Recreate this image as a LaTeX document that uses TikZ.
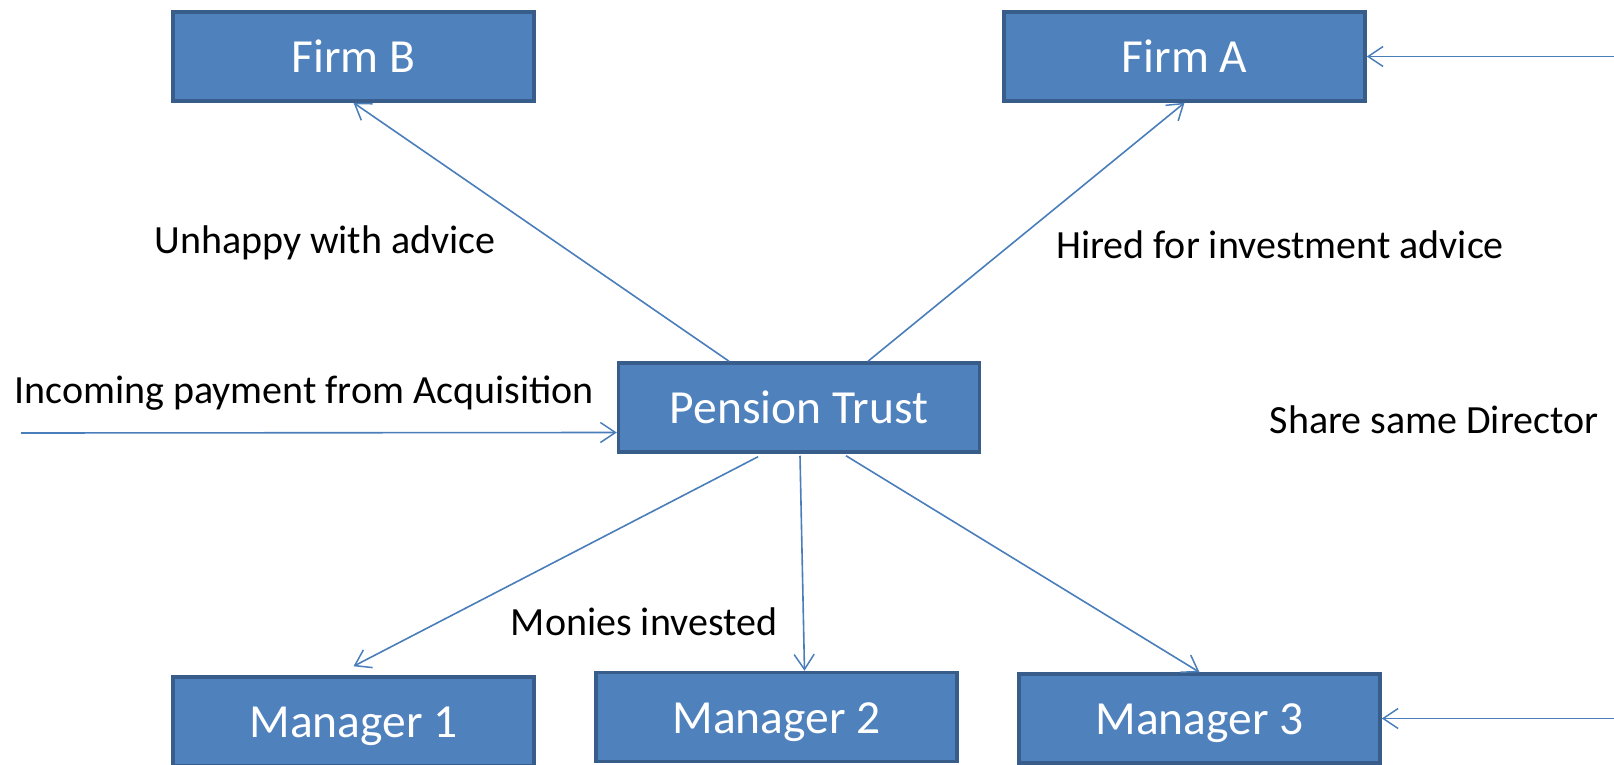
\documentclass[tikz,border=0pt]{standalone}
\usepackage{fontspec}
\setmainfont{Carlito}
\usepackage{tikz}
\usetikzlibrary{arrows.meta, positioning}
\definecolor{boxFill}{RGB}{79, 129, 189}
\definecolor{boxBorder}{RGB}{56, 93, 138}
\definecolor{lineBlue}{RGB}{74, 126, 187}

\begin{document}
\begin{tikzpicture}[
    x=1pt, y=-1pt,
    % Node styles
    entity/.style={
        rectangle,
        minimum width=361pt,
        minimum height=89pt,
        line width=3.5pt,
        text centered,
        text height=33pt,
        text depth=1pt,
        font=\fontsize{47.5pt}{56pt}\selectfont,
        text=white,
        fill=boxFill,
        draw=boxBorder
    },
    note/.style={
        font=\fontsize{40pt}{48pt}\selectfont,
        text=black,
        inner sep=0pt
    },
    flow/.style={
        -{Straight Barb[length=15pt, width=20pt, line width=1.5pt]},
        line width=1.6pt,
        color=lineBlue
    }
]
\clip (0,0) rectangle (1614,765);

% Boxes
\node[entity] (pt) at (799,407.5) {Pension Trust};
\node[entity] (firmB) at (353.5,56.5) {Firm B};
\node[entity] (firmA) at (1184.5,56.5) {Firm A};
\node[entity] (m1) at (353.5,721.5) {Manager 1};
\node[entity] (m2) at (776.5,717) {Manager 2};
\node[entity] (m3) at (1199.5,718.5) {Manager 3};

% Loose ends
\coordinate (src) at (21,433);
\coordinate (dirA) at (1614,56.5);
\coordinate (dirM) at (1614,718.5);

% Labels
\node[note] (unhappy) at (325,243) {Unhappy with advice};
\node[note] (hired) at (1280,245) {Hired for investment advice};
\node[note] (incoming) at (304,393) {Incoming payment from Acquisition};
\node[note] (share) at (1434,420) {Share same Director};
\node[note] (monies) at (644,622) {Monies invested};

% Arrows
\draw[flow] ([xshift=-70pt]pt.north) -- (firmB.south);
\draw[flow] ([xshift=69pt]pt.north) -- (firmA.south);
\draw[flow] (src) -- ([yshift=-25pt]pt.west);
\draw[flow] (dirA) -- (firmA.east);
\draw[flow] (dirM) -- (m3.east);
\draw[flow] ([xshift=-41pt,yshift=-3pt]pt.south) -- ([yshift=9pt]m1.north);
\draw[flow] ([xshift=1pt,yshift=-2pt]pt.south) -- ([xshift=28pt]m2.north);
\draw[flow] ([xshift=47pt,yshift=-2pt]pt.south) -- (m3.north);

\end{tikzpicture}
\end{document}
